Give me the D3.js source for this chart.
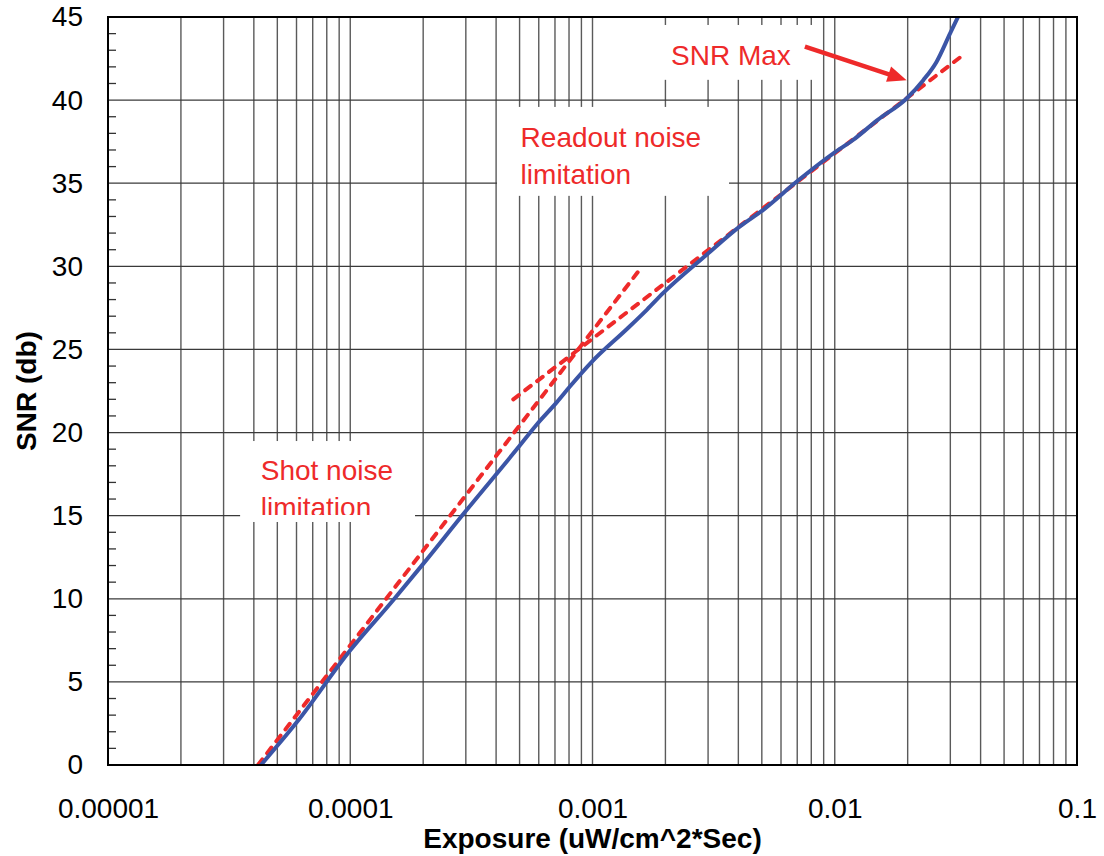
<!DOCTYPE html>
<html>
<head>
<meta charset="utf-8">
<script src="https://cdn.jsdelivr.net/npm/d3@7"></script>
<style>
  body { margin: 0; background: #fff; }
  svg { display: block; font-family: "Liberation Sans", Arial, sans-serif; }
</style>
</head>
<body>
<svg id="chart"></svg>
<script>
// measured SNR curve
const exposure = [4.28e-5, 6.0e-5, 1.0e-4, 1.5e-4, 2.0e-4, 2.93e-4, 5.0e-4, 5.9e-4, 7.1e-4, 8.1e-4,
  1.0e-3, 1.38e-3, 1.68e-3, 1.96e-3, 2.96e-3, 4.06e-3, 5.07e-3, 6.97e-3, 9.87e-3, 1.19e-2,
  1.5e-2, 1.98e-2, 2.32e-2, 2.63e-2, 2.99e-2, 3.3e-2];
const snr = [0, 2.55, 6.9, 9.9, 12.1, 15.1, 19.2, 20.5, 21.8, 22.8,
  24.3, 26.2, 27.4, 28.4, 30.7, 32.4, 33.4, 35.1, 36.8, 37.6,
  38.8, 40.1, 41.2, 42.3, 44.0, 45.3];

// asymptotes (end points)
const shotExposure = [4.16e-5, 1.585e-3];
const shotSnr = [0, 29.9];
const readExposure = [4.71e-4, 0.0345];
const readSnr = [22.0, 42.8];

const xTicks = [1e-5, 1e-4, 1e-3, 1e-2, 1e-1];
const xTickLabels = ["0.00001", "0.0001", "0.001", "0.01", "0.1"];
const yTicks = [0, 5, 10, 15, 20, 25, 30, 35, 40, 45];

// notes: text, anchor [exposure, snr], white box [x0, x1, yTop, yBottom]
const noteLines = [["Shot noise", "limitation"], ["Readout noise", "limitation"], ["SNR Max"]];
const noteAnchor = [[4.27e-5, 17.15], [5.05e-4, 37.2], [2.11e-3, 42.1]];
const noteBox = [
  [3.51e-5, 1.851e-4, 19.49, 14.62],
  [4.035e-4, 3.66e-3, 39.59, 34.24],
  [1.846e-3, 8.45e-3, 44.52, 41.22]
];
const arrowFrom = [7.53e-3, 43.22];
const arrowTo = [0.0198, 41.2];

const width = 1104, height = 856;
const margin = {top: 17, right: 27, bottom: 91, left: 108};

const red = "#ee2a2a", blue = "#3b55a6";

const svg = d3.select("#chart")
  .attr("width", width)
  .attr("height", height);

const x = d3.scaleLog()
  .domain([1e-5, 0.1])
  .range([margin.left, width - margin.right]);

const y = d3.scaleLinear()
  .domain([0, 45])
  .range([height - margin.bottom, margin.top]);

svg.append("clipPath").attr("id", "plot")
  .append("rect")
  .attr("x", x.range()[0])
  .attr("y", y.range()[1])
  .attr("width", x.range()[1] - x.range()[0])
  .attr("height", y.range()[0] - y.range()[1]);

/** Grid
------------------------------------------------------------*/

const vGrid = [];
[1e-5, 1e-4, 1e-3, 1e-2].forEach(dec => {
  for (let m = 1; m <= 9; m++) vGrid.push(dec * m);
});

svg.append("g")
  .selectAll("line")
  .data(vGrid)
  .enter().append("line")
  .attr("x1", d => x(d)).attr("x2", d => x(d))
  .attr("y1", y(45)).attr("y2", y(0))
  .attr("stroke", "#5a5a5a")
  .attr("stroke-width", 1.4);

svg.append("g")
  .selectAll("line")
  .data(yTicks)
  .enter().append("line")
  .attr("x1", x(1e-5)).attr("x2", x(0.1))
  .attr("y1", d => y(d)).attr("y2", d => y(d))
  .attr("stroke", "#3a3a3a")
  .attr("stroke-width", 1.3);

// minor ticks on the y axis, inside
svg.append("g")
  .selectAll("line")
  .data(d3.range(0, 46).filter(d => d % 5 !== 0))
  .enter().append("line")
  .attr("x1", x(1e-5)).attr("x2", x(1e-5) + 8)
  .attr("y1", d => y(d)).attr("y2", d => y(d))
  .attr("stroke", "#333")
  .attr("stroke-width", 1.3);

/** Notes (white boxes hide the grid)
------------------------------------------------------------*/

const notes = svg.append("g")
  .selectAll("g")
  .data(noteLines)
  .enter().append("g");

notes.append("rect")
  .attr("x", (d, i) => x(noteBox[i][0]))
  .attr("y", (d, i) => y(noteBox[i][2]))
  .attr("width", (d, i) => x(noteBox[i][1]) - x(noteBox[i][0]))
  .attr("height", (d, i) => y(noteBox[i][3]) - y(noteBox[i][2]))
  .attr("fill", "#fff");

notes.append("clipPath")
  .attr("id", (d, i) => "note" + i)
  .append("rect")
  .attr("x", (d, i) => x(noteBox[i][0]))
  .attr("y", (d, i) => y(noteBox[i][2]))
  .attr("width", (d, i) => x(noteBox[i][1]) - x(noteBox[i][0]))
  .attr("height", (d, i) => y(noteBox[i][3]) - y(noteBox[i][2]) - 7);

notes.append("text")
  .attr("clip-path", (d, i) => "url(#note" + i + ")")
  .attr("fill", red)
  .attr("font-size", 28)
  .each(function (d, i) {
    const t = d3.select(this);
    d.forEach((line, k) => {
      t.append("tspan")
        .attr("x", x(noteAnchor[i][0]))
        .attr("y", y(noteAnchor[i][1]) + k * 37)
        .text(line);
    });
  });

/** Lines
------------------------------------------------------------*/

const plot = svg.append("g").attr("clip-path", "url(#plot)");

const line = d3.line()
  .x(d => x(d[0]))
  .y(d => y(d[1]));

plot.append("path")
  .datum(shotExposure.map((e, i) => [e, shotSnr[i]]))
  .attr("d", line)
  .attr("fill", "none")
  .attr("stroke", red)
  .attr("stroke-width", 4)
  .attr("stroke-linecap", "round")
  .attr("stroke-dasharray", "7,8");

plot.append("path")
  .datum(readExposure.map((e, i) => [e, readSnr[i]]))
  .attr("d", line)
  .attr("fill", "none")
  .attr("stroke", red)
  .attr("stroke-width", 4)
  .attr("stroke-linecap", "round")
  .attr("stroke-dasharray", "7,8");

plot.append("path")
  .datum(exposure.map((e, i) => [e, snr[i]]))
  .attr("d", line.curve(d3.curveMonotoneX))
  .attr("fill", "none")
  .attr("stroke", blue)
  .attr("stroke-width", 4)
  .attr("stroke-linejoin", "round");

// arrow to SNR max
const ax0 = x(arrowFrom[0]), ay0 = y(arrowFrom[1]);
const ax1 = x(arrowTo[0]), ay1 = y(arrowTo[1]);
const len = Math.hypot(ax1 - ax0, ay1 - ay0);
const ux = (ax1 - ax0) / len, uy = (ay1 - ay0) / len;
const headLen = 19, headW = 8;

svg.append("line")
  .attr("x1", ax0).attr("y1", ay0)
  .attr("x2", ax1 - ux * (headLen - 2)).attr("y2", ay1 - uy * (headLen - 2))
  .attr("stroke", red)
  .attr("stroke-width", 4.5);

svg.append("path")
  .attr("d", "M" + ax1 + "," + ay1 +
    "L" + (ax1 - ux * headLen - uy * headW) + "," + (ay1 - uy * headLen + ux * headW) +
    "L" + (ax1 - ux * headLen + uy * headW) + "," + (ay1 - uy * headLen - ux * headW) + "Z")
  .attr("fill", red);

/** Frame & axes
------------------------------------------------------------*/

svg.append("rect")
  .attr("x", x.range()[0])
  .attr("y", y.range()[1])
  .attr("width", x.range()[1] - x.range()[0])
  .attr("height", y.range()[0] - y.range()[1])
  .attr("fill", "none")
  .attr("stroke", "#000")
  .attr("stroke-width", 2);

const xAxis = svg.append("g")
  .attr("transform", "translate(0," + y(0) + ")")
  .call(d3.axisBottom(x)
    .tickValues(xTicks)
    .tickFormat((d, i) => xTickLabels[i])
    .tickSize(0)
    .tickPadding(33));

const yAxis = svg.append("g")
  .attr("transform", "translate(" + x(1e-5) + ",0)")
  .call(d3.axisLeft(y)
    .tickValues(yTicks)
    .tickSize(0)
    .tickPadding(25));

[xAxis, yAxis].forEach(a => {
  a.select(".domain").remove();
  a.selectAll("text")
    .attr("font-family", "Liberation Sans, Arial, sans-serif")
    .attr("font-size", 28)
    .attr("fill", "#000");
});

svg.append("text")
  .attr("x", (x.range()[0] + x.range()[1]) / 2)
  .attr("y", 848)
  .attr("text-anchor", "middle")
  .attr("font-size", 28)
  .attr("font-weight", "bold")
  .text("Exposure (uW/cm^2*Sec)");

svg.append("text")
  .attr("transform", "translate(36," + (y(0) + y(45)) / 2 + ") rotate(-90)")
  .attr("text-anchor", "middle")
  .attr("font-size", 28)
  .attr("font-weight", "bold")
  .text("SNR (db)");
</script>
</body>
</html>
